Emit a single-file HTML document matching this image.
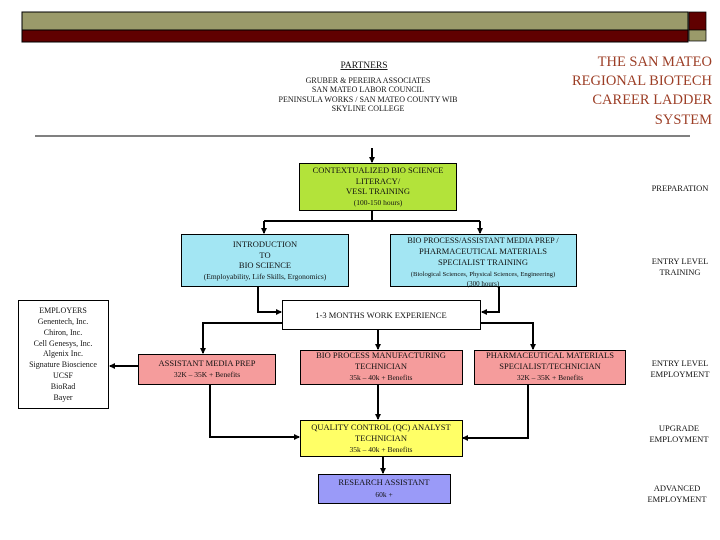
<!DOCTYPE html>
<html><head><meta charset="utf-8"><style>
html,body{margin:0;padding:0;background:#fff;}
svg{display:block;}
text{font-family:"Liberation Serif",serif;fill:#111;}
</style></head><body>
<svg width="720" height="540" viewBox="0 0 720 540" xmlns="http://www.w3.org/2000/svg">
<defs><marker id="a" markerWidth="6" markerHeight="6" refX="5" refY="3" orient="auto" markerUnits="userSpaceOnUse"><path d="M0,0 L6,3 L0,6 z" fill="#000"/></marker></defs>
<rect x="22" y="12" width="666" height="18" fill="#9a9a6a" stroke="#000" stroke-width="1"/>
<rect x="22" y="30" width="666" height="12" fill="#600000" stroke="#000" stroke-width="1"/>
<rect x="689" y="12" width="17" height="18" fill="#600000" stroke="#000" stroke-width="0.7"/>
<rect x="689" y="30" width="17" height="11" fill="#9a9a6a" stroke="#000" stroke-width="0.7"/>
<g text-anchor="middle" font-size="8">
<text x="364" y="68" font-size="9.5" text-decoration="underline">PARTNERS</text>
<text x="368" y="83">GRUBER &amp; PEREIRA ASSOCIATES</text>
<text x="368" y="92">SAN MATEO LABOR COUNCIL</text>
<text x="368" y="102">PENINSULA WORKS / SAN MATEO COUNTY WIB</text>
<text x="368" y="111">SKYLINE COLLEGE</text>
</g>
<g text-anchor="end" font-size="14.5">
<text x="712" y="66" style="fill:#9c3e26">THE SAN MATEO</text>
<text x="712" y="85" style="fill:#9c3e26">REGIONAL BIOTECH</text>
<text x="712" y="104" style="fill:#9c3e26">CAREER LADDER</text>
<text x="712" y="124" style="fill:#9c3e26">SYSTEM</text>
</g>
<line x1="35" y1="136" x2="690" y2="136" stroke="#000" stroke-width="1"/>
<g stroke="#000" stroke-width="2" fill="none">
<line x1="372" y1="148" x2="372" y2="162" marker-end="url(#a)"/>
<polyline points="372,211 372,221"/>
<polyline points="264,221 480,221"/>
<line x1="264" y1="221" x2="264" y2="233" marker-end="url(#a)"/>
<line x1="480" y1="221" x2="480" y2="233" marker-end="url(#a)"/>
<polyline points="258,287 258,312 281,312" marker-end="url(#a)"/>
<polyline points="499,287 499,312 482,312" marker-end="url(#a)"/>
<polyline points="282,323 203,323 203,353" marker-end="url(#a)"/>
<line x1="378" y1="330" x2="378" y2="349" marker-end="url(#a)"/>
<polyline points="481,323 533,323 533,349" marker-end="url(#a)"/>
<line x1="138" y1="366" x2="110" y2="366" marker-end="url(#a)"/>
<polyline points="210,384 210,437 299,437" marker-end="url(#a)"/>
<line x1="378" y1="384" x2="378" y2="419" marker-end="url(#a)"/>
<polyline points="528,384 528,438 463,438" marker-end="url(#a)"/>
<line x1="383" y1="456" x2="383" y2="473" marker-end="url(#a)"/>
</g>
<g stroke="#000" stroke-width="1">
<rect x="299.5" y="163.5" width="157" height="47" fill="#b3e33a"/>
<rect x="181.5" y="234.5" width="167" height="52" fill="#a3e6f3"/>
<rect x="390.5" y="234.5" width="186" height="52" fill="#a3e6f3"/>
<rect x="282.5" y="300.5" width="198" height="29" fill="#fff"/>
<rect x="18.5" y="300.5" width="90" height="108" fill="#fff"/>
<rect x="138.5" y="354.5" width="137" height="30" fill="#f59c9c"/>
<rect x="300.5" y="350.5" width="162" height="34" fill="#f59c9c"/>
<rect x="474.5" y="350.5" width="151" height="34" fill="#f59c9c"/>
<rect x="300.5" y="420.5" width="162" height="36" fill="#ffff66"/>
<rect x="318.5" y="474.5" width="132" height="29" fill="#9a9af8"/>
</g>
<g text-anchor="middle" font-size="8.5">
<text x="378" y="173">CONTEXTUALIZED BIO SCIENCE</text>
<text x="378" y="184">LITERACY/</text>
<text x="378" y="194">VESL TRAINING</text>
<text x="378" y="205" font-size="7.5">(100-150 hours)</text>
<text x="265" y="247">INTRODUCTION</text>
<text x="265" y="258">TO</text>
<text x="265" y="268">BIO SCIENCE</text>
<text x="265" y="279" font-size="7.5">(Employability, Life Skills, Ergonomics)</text>
<text x="483" y="243" font-size="8.2">BIO PROCESS/ASSISTANT MEDIA PREP /</text>
<text x="483" y="254">PHARMACEUTICAL MATERIALS</text>
<text x="483" y="265">SPECIALIST TRAINING</text>
<text x="483" y="276" font-size="6.7">(Biological Sciences, Physical Sciences, Engineering)</text>
<text x="483" y="286" font-size="7">(300 hours)</text>
<text x="381" y="318">1-3 MONTHS WORK EXPERIENCE</text>
<text x="63" y="313" font-size="8">EMPLOYERS</text>
<text x="63" y="324" font-size="8">Genentech, Inc.</text>
<text x="63" y="335" font-size="8">Chiron, Inc.</text>
<text x="63" y="346" font-size="8">Cell Genesys, Inc.</text>
<text x="63" y="356" font-size="8">Algenix Inc.</text>
<text x="63" y="367" font-size="8">Signature Bioscience</text>
<text x="63" y="378" font-size="8">UCSF</text>
<text x="63" y="389" font-size="8">BioRad</text>
<text x="63" y="400" font-size="8">Bayer</text>
<text x="207" y="366">ASSISTANT MEDIA PREP</text>
<text x="207" y="377" font-size="7.5">32K – 35K + Benefits</text>
<text x="381" y="358">BIO PROCESS MANUFACTURING</text>
<text x="381" y="369">TECHNICIAN</text>
<text x="381" y="380" font-size="7.5">35k – 40k + Benefits</text>
<text x="550" y="358">PHARMACEUTICAL MATERIALS</text>
<text x="550" y="369">SPECIALIST/TECHNICIAN</text>
<text x="550" y="380" font-size="7.5">32K – 35K + Benefits</text>
<text x="381" y="430">QUALITY CONTROL (QC) ANALYST</text>
<text x="381" y="441">TECHNICIAN</text>
<text x="381" y="452" font-size="7.5">35k – 40k + Benefits</text>
<text x="384" y="485">RESEARCH ASSISTANT</text>
<text x="384" y="497" font-size="7.5">60k +</text>
</g>
<g text-anchor="middle" font-size="8.5">
<text x="680" y="191">PREPARATION</text>
<text x="680" y="264">ENTRY LEVEL</text>
<text x="680" y="275">TRAINING</text>
<text x="680" y="366">ENTRY LEVEL</text>
<text x="680" y="377">EMPLOYMENT</text>
<text x="679" y="431">UPGRADE</text>
<text x="679" y="442">EMPLOYMENT</text>
<text x="677" y="491">ADVANCED</text>
<text x="677" y="502">EMPLOYMENT</text>
</g>
</svg>
</body></html>
